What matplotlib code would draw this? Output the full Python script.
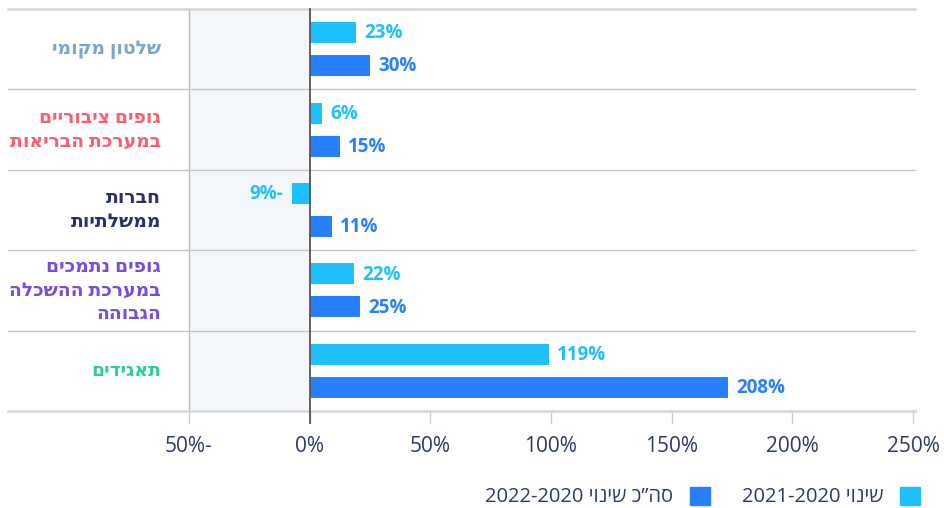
import re
import matplotlib
matplotlib.use("Agg")
import matplotlib.pyplot as plt
from matplotlib.patches import Patch

plt.rcParams['font.family'] = ['Open Sans', 'DejaVu Sans']

# Data (logical order, Hebrew)
categories = ['שלטון מקומי',
              'גופים ציבוריים\nבמערכת הבריאות',
              'חברות\nממשלתיות',
              'גופים נתמכים\nבמערכת ההשכלה\nהגבוהה',
              'תאגידים']
cat_colors = ['#7ba4d3', '#ff5c70', '#28306a', '#7a4be0', '#2ecc9b']
change_2021 = [23, 6, -9, 22, 119]
change_2022 = [30, 15, 11, 25, 208]
series_names = ['שינוי 2020-2021', 'סה”כ שינוי 2020-2022']
# the source chart's axis labels do not match its bar scale: each "50%" step spans 60 units
tick_vals = [-60, 0, 60, 120, 180, 240, 300]
tick_labels = ['-50%', '0%', '50%', '100%', '150%', '200%', '250%']

light = '#1ec0ff'
dark = '#2680ff'
navy = '#2b3a6e'


def rtl(s):
    # matplotlib has no bidi support: put Hebrew in visual order, keep numbers LTR
    out = []
    for line in s.split('\n'):
        out.append(re.sub(r'[0-9%]+', lambda m: m.group(0)[::-1], line[::-1]))
    return '\n'.join(out)


fig = plt.figure(figsize=(9.44, 5.08), dpi=100)
ax = fig.add_axes([8 / 944, 1 - 411 / 508, 907 / 944, 402 / 508])

n = len(categories)
ys = list(range(n))
off = 0.205
h = 0.26

ax.axvspan(-60, 0, color='#f3f7fb', zorder=0)
ax.axvline(-60, color='#bdbdbd', lw=1, zorder=1)

ax.barh([y - off for y in ys], change_2021, height=h, color=light, zorder=3)
ax.barh([y + off for y in ys], change_2022, height=h, color=dark, zorder=3)

for y, v in zip(ys, change_2021):
    ax.annotate(rtl(f'{v}%'), (v, y - off), xytext=(6 if v >= 0 else -6, -0.5),
                textcoords='offset points', ha='left' if v >= 0 else 'right',
                va='center', color=light, fontsize=13.5, fontweight='bold')
for y, v in zip(ys, change_2022):
    ax.annotate(rtl(f'{v}%'), (v, y + off), xytext=(6 if v >= 0 else -6, -0.5),
                textcoords='offset points', ha='left' if v >= 0 else 'right',
                va='center', color=dark, fontsize=13.5, fontweight='bold')

for y, c, col in zip(ys, categories, cat_colors):
    ax.text(-74, y, rtl(c), ha='right', va='center', multialignment='right',
            color=col, fontsize=13.5, fontweight='bold', linespacing=1.25)

# group separators
for b in [i - 0.5 for i in range(n + 1)]:
    edge = b in (-0.5, n - 0.5)
    ax.axhline(b, color='#d6d6d6' if edge else '#c4c4c4', lw=1.8 if edge else 1,
               clip_on=False, zorder=2)

ax.axvline(0, ymin=-0.03, ymax=1, color='#555555', lw=1.3, clip_on=False, zorder=4)

ax.set_xlim(-150, 301)
ax.set_ylim(n - 0.5, -0.5)
ax.set_xticks(tick_vals)
ax.set_xticklabels([rtl(t) for t in tick_labels], color=navy, fontsize=15)
ax.tick_params(axis='x', length=9, width=1, color='#cccccc', pad=9)
ax.set_yticks([])
for s in ax.spines.values():
    s.set_visible(False)

handles = [Patch(color=dark), Patch(color=light)]
ax.legend(handles, [rtl(series_names[1]), rtl(series_names[0])], ncol=2,
          markerfirst=False, frameon=False, loc='lower right',
          bbox_to_anchor=(1.014, -0.26), handlelength=1.0, handleheight=1.0,
          handletextpad=0.8, columnspacing=1.6, fontsize=14.5,
          labelcolor=navy, borderaxespad=0)

fig.savefig('out.png', dpi=100)
